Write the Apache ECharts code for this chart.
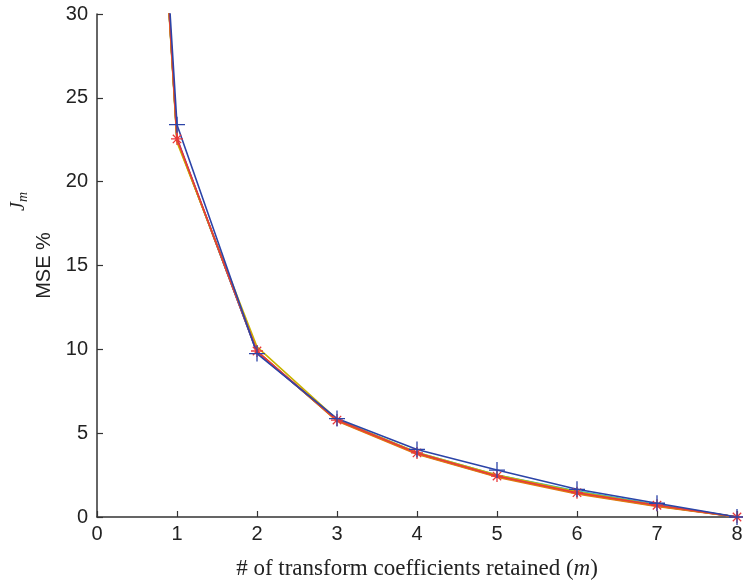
<!DOCTYPE html>
<html>
<head>
<meta charset="utf-8">
<script src="https://cdn.jsdelivr.net/npm/echarts@6/dist/echarts.min.js"></script>
<style>html,body{margin:0;padding:0;background:#fff}#c{width:743px;height:580px}</style>
</head>
<body>
<div id="c"></div>
<script>
var xValues = [0, 1, 2, 3, 4, 5, 6, 7, 8];
var xTicks = [0, 1, 2, 3, 4, 5, 6, 7, 8];
var yTicks = [0, 5, 10, 15, 20, 25, 30];
var seriesGray   = [100, 22.5, 9.85, 5.75, 3.78, 2.42, 1.42, 0.66, 0];
var seriesCyan   = [100, 22.5, 9.85, 5.8, 3.85, 2.5, 1.55, 0.74, 0];
var seriesPurple = [100, 22.6, 9.8, 5.8, 3.8, 2.45, 1.45, 0.68, 0];
var seriesOrange = [100, 22.45, 9.9, 5.72, 3.74, 2.38, 1.38, 0.63, 0];
var seriesYellow = [100, 22.35, 10.15, 5.82, 3.85, 2.5, 1.5, 0.7, 0];
var seriesRed    = [100, 22.55, 9.9, 5.78, 3.82, 2.44, 1.45, 0.7, 0];
var seriesBlue   = [100, 23.4, 9.75, 5.87, 4.03, 2.8, 1.65, 0.82, 0];

var plusSym = 'path://M0,-1L0,1M-1,0L1,0';
var starSym = 'path://M0,-1L0,1M-1,0L1,0M-0.7,-0.7L0.7,0.7M-0.7,0.7L0.7,-0.7';

function pts(arr) {
  return arr.map(function (v, i) {
    if (i === 0) return { value: [xValues[i], v], symbol: 'none' };
    return [xValues[i], v];
  });
}
function lineS(name, arr, color, sym, size) {
  return {
    name: name, type: 'line', data: pts(arr), clip: true,
    symbol: sym || 'none', symbolSize: size || 0, showSymbol: !!sym,
    lineStyle: { color: color, width: 1.6 },
    itemStyle: { color: 'none', borderColor: color, borderWidth: 1.3 },
    emphasis: { disabled: true }, animation: false
  };
}
var chart = echarts.init(document.getElementById('c'), null, { renderer: 'canvas' });
chart.setOption({
  backgroundColor: '#fff',
  animation: false,
  grid: { left: 97, right: 6, top: 14, bottom: 63, containLabel: false, outerBoundsMode: 'none' },
  xAxis: {
    type: 'value', min: 0, max: 8, interval: 1,
    name: '# of transform coefficients retained ({i|m})',
    nameLocation: 'middle', nameGap: 40,
    nameTextStyle: { fontFamily: 'Liberation Serif', fontSize: 23, color: '#222',
      rich: { i: { fontFamily: 'Liberation Serif', fontStyle: 'italic', fontSize: 23, color: '#222' } } },
    axisLine: { lineStyle: { color: '#333', width: 1.5 } },
    axisTick: { inside: true, length: 6, lineStyle: { color: '#333', width: 1.2 } },
    axisLabel: { fontFamily: 'Liberation Sans', fontSize: 20, color: '#222', margin: 7,
      formatter: function (v) { return xTicks.indexOf(v) >= 0 ? String(v) : ''; } },
    splitLine: { show: false }
  },
  yAxis: {
    type: 'value', min: 0, max: 30, interval: 5,
    name: '{j|J}{s|m}\n{t|MSE %}',
    nameLocation: 'middle', nameGap: 40, nameRotate: 90,
    nameTextStyle: {
      rich: {
        j: { fontFamily: 'Liberation Serif', fontStyle: 'italic', fontSize: 20, color: '#222', lineHeight: 27, padding: [0, 0, 0, 128] },
        s: { fontFamily: 'Liberation Serif', fontStyle: 'italic', fontSize: 14, color: '#222', lineHeight: 27, padding: [10, 0, 0, 0] },
        t: { fontFamily: 'Liberation Sans', fontSize: 20, color: '#222', lineHeight: 25 }
      }
    },
    axisLine: { show: true, lineStyle: { color: '#333', width: 1.5 } },
    axisTick: { show: true, inside: true, length: 6, lineStyle: { color: '#333', width: 1.2 } },
    axisLabel: { fontFamily: 'Liberation Sans', fontSize: 20, color: '#222', margin: 9,
      formatter: function (v) { return yTicks.indexOf(v) >= 0 ? String(v) : ''; } },
    splitLine: { show: false }
  },
  series: [
    lineS('gray', seriesGray, '#555555'),
    lineS('cyan', seriesCyan, '#2fb5c8'),
    lineS('purple', seriesPurple, '#8b3b8f'),
    lineS('orange', seriesOrange, '#e07a10'),
    lineS('yellow', seriesYellow, '#c9b400'),
    lineS('red', seriesRed, '#e8383a', starSym, 12),
    lineS('blue', seriesBlue, '#2c44a8', plusSym, 16)
  ]
});
</script>
</body>
</html>
